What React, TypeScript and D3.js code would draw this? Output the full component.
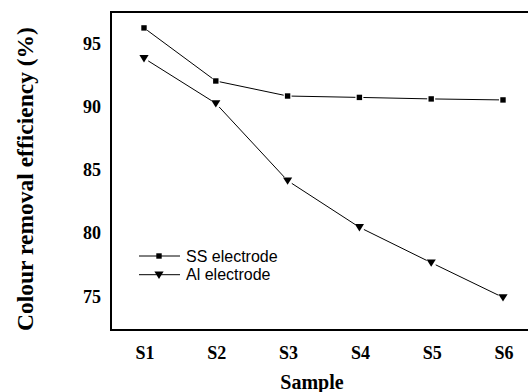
import React from "react";
import * as d3 from "d3";

const samples = ["S1", "S2", "S3", "S4", "S5", "S6"];
const ssValues = [96.27, 92.07, 90.88, 90.77, 90.65, 90.57];
const alValues = [93.87, 90.3, 84.18, 80.49, 77.69, 74.94];
const yTicks = [75, 80, 85, 90, 95];
const seriesNames = ["SS electrode", "Al electrode"];

const W = 528;
const H = 392;
const frame = { left: 111, top: 12, right: 536, bottom: 330 };

function segs(pts: [number, number][], gap: number) {
  const out: string[] = [];
  for (let i = 0; i < pts.length - 1; i++) {
    const [x1, y1] = pts[i];
    const [x2, y2] = pts[i + 1];
    const dx = x2 - x1, dy = y2 - y1;
    const len = Math.hypot(dx, dy);
    const ux = dx / len, uy = dy / len;
    out.push(
      `M${x1 + ux * gap},${y1 + uy * gap}L${x2 - ux * gap},${y2 - uy * gap}`
    );
  }
  return out.join("");
}

function Square({ x, y }: { x: number; y: number }) {
  return <rect x={x - 2.7} y={y - 2.7} width={5.4} height={5.4} fill="#000" />;
}
function Tri({ x, y }: { x: number; y: number }) {
  const p = d3.path();
  p.moveTo(x - 4.6, y - 3.2);
  p.lineTo(x + 4.6, y - 3.2);
  p.lineTo(x, y + 4.2);
  p.closePath();
  return <path d={p.toString()} fill="#000" />;
}

export default function App() {
  const x = d3.scalePoint<string>().domain(samples).range([144, 503]);
  const y = d3.scaleLinear().domain([72.36, 97.53]).range([frame.bottom, frame.top]);

  const ssPts: [number, number][] = samples.map((s, i) => [x(s)!, y(ssValues[i])]);
  const alPts: [number, number][] = samples.map((s, i) => [x(s)!, y(alValues[i])]);

  const serif = "'Times New Roman', 'Liberation Serif', serif";
  const sans = "Arial, 'Liberation Sans', sans-serif";

  return (
    <svg width={W} height={H} style={{ position: "absolute", left: 0, top: 0, background: "#fff" }}>
      <rect x={0} y={0} width={W} height={H} fill="#fff" />
      <rect
        x={frame.left}
        y={frame.top}
        width={frame.right - frame.left}
        height={frame.bottom - frame.top}
        fill="none"
        stroke="#000"
        strokeWidth={2}
      />
      {yTicks.map((t) => (
        <text
          key={t}
          x={101}
          y={y(t)}
          textAnchor="end"
          dominantBaseline="central"
          fontFamily={serif}
          fontWeight="bold"
          fontSize={18}
        >
          {t}
        </text>
      ))}
      {samples.map((s) => (
        <text
          key={s}
          x={x(s)! + 1}
          y={353}
          textAnchor="middle"
          dominantBaseline="central"
          fontFamily={serif}
          fontWeight="bold"
          fontSize={18}
        >
          {s}
        </text>
      ))}
      <text
        x={312}
        y={382}
        textAnchor="middle"
        dominantBaseline="central"
        fontFamily={serif}
        fontWeight="bold"
        fontSize={20}
      >
        Sample
      </text>
      <text
        transform={`translate(25,179) rotate(-90)`}
        textAnchor="middle"
        dominantBaseline="central"
        fontFamily={serif}
        fontWeight="bold"
        fontSize={23.5}
      >
        Colour removal efficiency (%)
      </text>

      <path d={segs(ssPts, 4)} fill="none" stroke="#000" strokeWidth={1} />
      <path d={segs(alPts, 5)} fill="none" stroke="#000" strokeWidth={1} />
      {ssPts.map(([px, py], i) => (
        <Square key={"s" + i} x={px} y={py} />
      ))}
      {alPts.map(([px, py], i) => (
        <Tri key={"a" + i} x={px} y={py} />
      ))}

      {/* legend */}
      <line x1={139} x2={180} y1={256} y2={256} stroke="#000" strokeWidth={1} />
      <Square x={159} y={256} />
      <text x={186} y={256} dominantBaseline="central" fontFamily={sans} fontSize={16}>
        {seriesNames[0]}
      </text>
      <line x1={139} x2={180} y1={274.7} y2={274.7} stroke="#000" strokeWidth={1} />
      <Tri x={159} y={274.7} />
      <text x={186} y={274.7} dominantBaseline="central" fontFamily={sans} fontSize={16}>
        {seriesNames[1]}
      </text>
    </svg>
  );
}
